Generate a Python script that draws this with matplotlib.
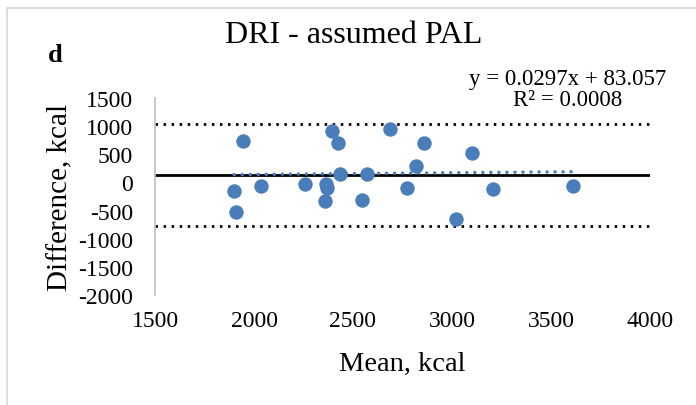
import matplotlib
matplotlib.use("Agg")
import matplotlib.pyplot as plt
from matplotlib.patches import Rectangle
import numpy as np

plt.rcParams['font.family'] = ['Liberation Serif', 'DejaVu Serif']
plt.rcParams['axes.unicode_minus'] = False

# mean of the two methods (kcal) and their difference (kcal)
mean_kcal = [1946, 1900, 1909, 2037, 2256, 2362, 2370, 2360, 2394, 2424, 2433,
             2544, 2572, 2688, 2857, 2820, 2771, 3101, 3209, 3022, 3610]
diff_kcal = [741, -151, -517, -62, -27, -27, -103, -328, 913, 705, 151,
             -315, 151, 953, 705, 298, -97, 528, -115, -647, -57]

mean_diff = 130
upper_loa = 1035
lower_loa = -780
slope = 0.0297
intercept = 83.057

x_ticks = [1500, 2000, 2500, 3000, 3500, 4000]
y_ticks = [-2000, -1500, -1000, -500, 0, 500, 1000, 1500]

blue = '#4a7ebb'

fig = plt.figure(figsize=(6.96, 4.06), dpi=100)
fig.patches.append(Rectangle((7 / 696, -0.1), 1.2, 1 - 9 / 406 + 0.1,
                             transform=fig.transFigure, fill=False,
                             edgecolor='#d9d9d9', linewidth=1.2))

ax = fig.add_axes([155 / 696, 1 - 296 / 406, 495 / 696, 197 / 406])

ax.scatter(mean_kcal, diff_kcal, s=108, color=blue, zorder=3, linewidths=0)

ax.plot([1500, 4000], [mean_diff, mean_diff], color='black', linewidth=2.0, zorder=2)
for lim in [upper_loa, lower_loa]:
    ax.plot([1500, 4000], [lim, lim], color='black', linewidth=2.0,
            dashes=(0.9, 2.0), zorder=2)

# linear trendline
tx = np.array([min(mean_kcal), max(mean_kcal)])
ax.plot(tx, slope * tx + intercept, color=blue, linewidth=2.5,
        dashes=(0.01, 2.3), dash_capstyle='round', zorder=2.5)

ax.set_xlim(1500, 4000)
ax.set_ylim(-2000, 1500)
ax.set_xticks(x_ticks)
ax.set_yticks(y_ticks)
ax.tick_params(length=0, labelsize=17)
ax.tick_params(axis='x', pad=11)
ax.tick_params(axis='y', pad=16)
for s in ['top', 'right', 'bottom']:
    ax.spines[s].set_visible(False)
ax.spines['left'].set_color('#bfbfbf')
ax.spines['left'].set_linewidth(1.2)

ax.set_xlabel('Mean, kcal', fontsize=20.5, labelpad=14)
ax.set_ylabel('Difference, kcal', fontsize=21, labelpad=3)

fig.text(354 / 696, 1 - 43 / 406, 'DRI - assumed PAL', fontsize=23,
         ha='center', va='baseline')
fig.text(48 / 696, 1 - 62 / 406, 'd', fontsize=19, fontweight='bold',
         ha='left', va='baseline')
fig.text(568 / 696, 1 - 90 / 406, 'y = 0.0297x + 83.057\nR² = 0.0008',
         fontsize=16.5, ha='center', va='center', multialignment='center',
         linespacing=1.0)

fig.savefig('out.png', dpi=100)
